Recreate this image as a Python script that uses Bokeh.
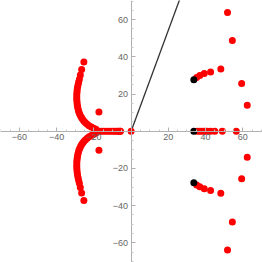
from bokeh.plotting import figure
from bokeh.models import Range1d, FixedTicker
from bokeh.embed import file_html
from bokeh.resources import INLINE

# ---- data ----
# left complex branch, upper half
left_up_x = [-25.4, -26.6, -27.3, -27.8, -28.2, -28.5, -28.8, -29.0, -29.1, -29.2, -29.2, -29.2,
             -29.1, -29.0, -28.8, -28.6, -28.3, -28.0, -27.6, -27.1, -26.6, -26.0, -25.3,
             -24.5, -23.6, -22.6, -21.4, -20.1, -18.9]
left_up_y = [37.2, 33.2, 30.2, 28.0, 26.5, 25.0, 23.6, 22.2, 20.9, 19.6, 18.3, 17.0,
             15.8, 14.6, 13.4, 12.3, 11.2, 10.1, 9.1, 8.1, 7.2, 6.3, 5.4,
             4.6, 3.8, 3.0, 2.3, 1.6, 1.0]
# left complex branch, lower half
left_dn_x = [-25.4, -26.6, -27.3, -27.8, -28.2, -28.5, -28.8, -29.0, -29.1, -29.2, -29.2, -29.2,
             -29.1, -29.0, -28.8, -28.6, -28.3, -28.0, -27.6, -27.1, -26.6, -26.0, -25.3,
             -24.5, -23.6, -22.6, -21.4, -20.1, -18.9]
left_dn_y = [-37.2, -33.2, -30.2, -28.0, -26.5, -25.0, -23.6, -22.2, -20.9, -19.6, -18.3, -17.0,
             -15.8, -14.6, -13.4, -12.3, -11.2, -10.1, -9.1, -8.1, -7.2, -6.3, -5.4,
             -4.6, -3.8, -3.0, -2.3, -1.6, -1.0]
# left real-axis points
left_real_x = [-17.3, -16.0, -14.7, -13.4, -12.1, -10.9, -9.7, -8.6, -7.6, -6.7, -6.0, -5.7]
left_real_y = [0, 0, 0, 0, 0, 0, 0, 0, 0, 0, 0, 0]
# isolated left points
iso_x = [-17.3, -17.3]
iso_y = [10.3, -10.3]
# origin pole
origin_x = [0.0]
origin_y = [0.0]
# right real-axis points
right_real_x = [35.5, 36.9, 38.2, 39.5, 40.9, 42.7, 45.0, 49.0, 56.5]
right_real_y = [0, 0, 0, 0, 0, 0, 0, 0, 0]
# right complex branch, upper
right_up_x = [35.2, 36.9, 39.3, 42.7, 48.2, 51.8, 54.4, 59.4, 62.4]
right_up_y = [28.9, 29.9, 31.0, 31.9, 33.4, 63.9, 48.8, 25.6, 14.0]
# right complex branch, lower
right_dn_x = [35.2, 36.9, 39.3, 42.7, 48.2, 51.8, 54.4, 59.4, 62.4]
right_dn_y = [-28.9, -29.9, -31.0, -31.9, -33.4, -63.9, -48.8, -25.6, -14.0]
# black points
black_x = [33.7, 33.7, 33.7]
black_y = [27.7, 0.0, -27.7]
# damping line
line_x = [0, 30]
line_y = [0, 81.5]

major_ticks = [-60, -40, -20, 20, 40, 60]
minor_ticks = [-70, -65, -55, -50, -45, -35, -30, -25, -15, -10, -5, 5, 10, 15, 25, 30, 35, 45, 50, 55, 65, 70]

p = figure(width=262, height=262, output_backend="svg", toolbar_location=None,
           x_range=Range1d(-70.2, 70.6), y_range=Range1d(-70.6, 70.3),
           min_border=0, outline_line_color=None)
p.grid.visible = False

for ax in (p.xaxis, p.yaxis):
    ax.fixed_location = 0
    ax.ticker = FixedTicker(ticks=major_ticks, minor_ticks=minor_ticks)
    ax.axis_line_color = "#b0b0b0"
    ax.major_tick_line_color = "#b0b0b0"
    ax.minor_tick_line_color = "#c8c8c8"
    ax.major_tick_in = 4
    ax.major_tick_out = 0
    ax.minor_tick_in = 2
    ax.minor_tick_out = 0
    ax.major_label_text_color = "#666666"
    ax.major_label_text_font = "Liberation Sans"
    ax.major_label_text_font_size = "9px"
    ax.major_label_standoff = 3

p.line(line_x, line_y, line_color="#333333", line_width=1.3)

red = dict(size=7, fill_color="#ff0000", line_color=None)
p.scatter(left_up_x, left_up_y, **red)
p.scatter(left_dn_x, left_dn_y, **red)
p.scatter(left_real_x, left_real_y, **red)
p.scatter(iso_x, iso_y, **red)
p.scatter(origin_x, origin_y, **red)
p.scatter(right_real_x, right_real_y, **red)
p.scatter(right_up_x, right_up_y, **red)
p.scatter(right_dn_x, right_dn_y, **red)
p.scatter(black_x, black_y, size=7, fill_color="#000000", line_color=None)

open("out.html", "w").write(file_html(p, INLINE))
